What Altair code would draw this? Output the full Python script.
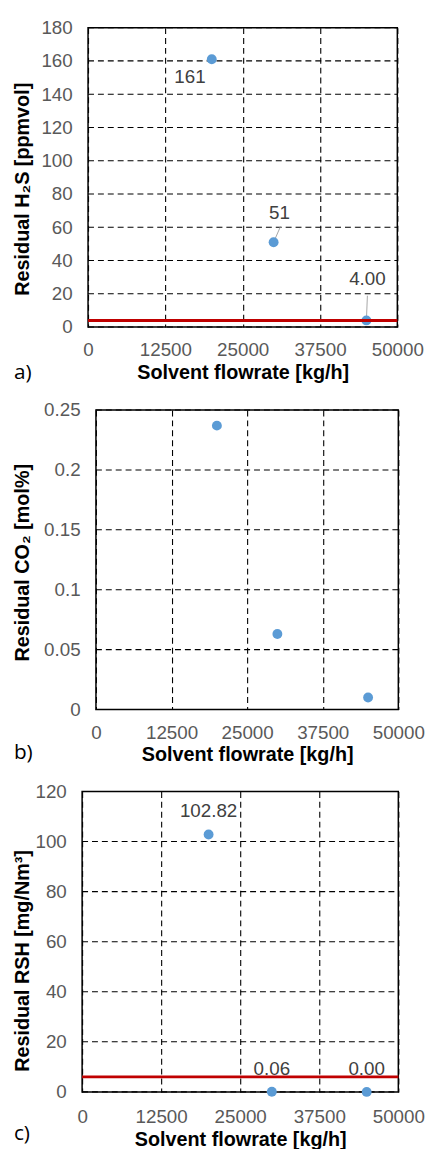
import altair as alt
import pandas as pd

# ---- data ----
flow = [20000, 30000, 45000]
h2s = [161, 51, 4.0]
h2s_labels = ["161", "51", "4.00"]
co2 = [0.237, 0.063, 0.01]
rsh = [102.82, 0.06, 0.0]
rsh_labels = ["102.82", "0.06", "0.00"]
h2s_limit = [4]
rsh_limit = [6]
x_ticks = [0, 12500, 25000, 37500, 50000]
h2s_ticks = [0, 20, 40, 60, 80, 100, 120, 140, 160, 180]
co2_ticks = [0, 0.05, 0.1, 0.15, 0.2, 0.25]
rsh_ticks = [0, 20, 40, 60, 80, 100, 120]

FONT = "Liberation Sans"
PT_COLOR = "#5B9BD5"
RED = "#C00000"
XMIN, XMAX = 0, 50000


def make_df(vals, labels=None):
    d = {"flow": flow, "val": vals, "idx": list(range(len(flow)))}
    if labels is not None:
        d["label"] = labels
    return pd.DataFrame(d)


def panel(df, ytitle, domain, ticks, fmt, w, h, x0, letter, ytx, yty, ldy, xlp,
          limit=None, label_offsets=None, leaders=None):
    xs = alt.Scale(domain=[XMIN, XMAX], nice=False, range=[x0, w])
    ys = alt.Scale(domain=domain, nice=False)
    xax = alt.Axis(values=x_ticks, format="d", tickCount=20, title="Solvent flowrate [kg/h]",
                   titleX=x0 + (w - x0) / 2, labelPadding=xlp)
    yax = alt.Axis(values=ticks, format=fmt, title=ytitle, tickCount=20, grid=False,
                   offset=-x0, titleX=ytx, titleY=yty, titleBaseline="middle",
                   titleAngle=270, titleAlign="center")
    base = alt.Chart(df).encode(x=alt.X("flow:Q", scale=xs, axis=xax),
                                y=alt.Y("val:Q", scale=ys, axis=yax))
    layers = []
    # horizontal dashed grid lines from tick list
    grid = alt.Chart(pd.DataFrame({"t": ticks})).mark_rule(
        color="#000000", strokeWidth=1.1, strokeDash=[6, 4]
    ).encode(y=alt.Y("t:Q"), x=alt.datum(XMIN), x2=alt.datum(XMAX))
    layers.append(base.mark_circle(size=0, opacity=0))
    layers.append(grid)
    # frame
    frame = alt.Chart(pd.DataFrame({"a": [0]})).mark_rect(
        fillOpacity=0, stroke="#000000", strokeWidth=1.5
    ).encode(x=alt.datum(XMIN), x2=alt.datum(XMAX),
             y=alt.datum(domain[0]), y2=alt.datum(domain[1]))
    layers.append(frame)
    if leaders:
        for i, (ox, oy) in leaders.items():
            layers.append(
                base.transform_filter(alt.datum.idx == i)
                .mark_rule(color="#A6A6A6", strokeWidth=1, x2Offset=ox, y2Offset=oy)
                .encode(x2="flow:Q", y2="val:Q")
            )
    layers.append(base.mark_circle(size=100, color=PT_COLOR, opacity=1))
    if limit is not None:
        lim = alt.Chart(pd.DataFrame({"lim": limit})).mark_rule(
            color=RED, strokeWidth=3).encode(y=alt.Y("lim:Q"), x=alt.datum(XMIN),
                                             x2=alt.datum(XMAX))
        layers.append(lim)
    if label_offsets:
        for i, (dx, dy) in label_offsets.items():
            layers.append(
                base.transform_filter(alt.datum.idx == i)
                .mark_text(font=FONT, fontSize=19, color="#404040", dx=dx, dy=dy,
                           baseline="middle", align="center")
                .encode(text="label:N")
            )
    return alt.layer(*layers).properties(
        width=w, height=h,
        title=alt.TitleParams(letter, orient="bottom", anchor="start", frame="bounds",
                              font="Open Sans", fontSize=21, fontWeight="normal",
                              color="#000000", dy=ldy, dx=1, offset=0),
    )


pa = panel(make_df(h2s, h2s_labels), "Residual H₂S [ppmvol]", [0, 180], h2s_ticks, "d",
           319, 303, 6, "a)", -66, 163, -20, 14, limit=h2s_limit,
           label_offsets={0: (-22, 18), 1: (6, -30), 2: (1, -42)},
           leaders={1: (7, -16), 2: (1, -25)})
pb = panel(make_df(co2), "Residual CO₂ [mol%]", [0, 0.25], co2_ticks, "~g",
           320, 303, 14, "b)", -74, 154, -23, 14)
pc = panel(make_df(rsh, rsh_labels), "Residual RSH [mg/Nm³]", [0, 120], rsh_ticks, "d",
           320, 304, 0, "c)", -60, 171, -26, 16, limit=rsh_limit,
           label_offsets={0: (0, -24), 1: (0, -23), 2: (0, -23)})

chart = alt.vconcat(pa, pb, pc, spacing=18).properties(
    padding={"left": 5, "top": 4, "right": 0, "bottom": 0}
).configure_view(
    strokeWidth=0
).configure_axis(
    labelFont=FONT, labelFontSize=19, labelColor="#595959", labelPadding=16,
    labelOverlap=False, labelFlush=False,
    titleFont=FONT, titleFontSize=20, titleFontWeight="bold", titleColor="#000000",
    gridColor="#000000", gridDash=[6, 4], gridWidth=1.1, gridOpacity=1,
    domain=False, ticks=False,
).configure_axisX(grid=True, titlePadding=3)

chart.save("out.html", embed_options={"renderer": "svg", "actions": False})
